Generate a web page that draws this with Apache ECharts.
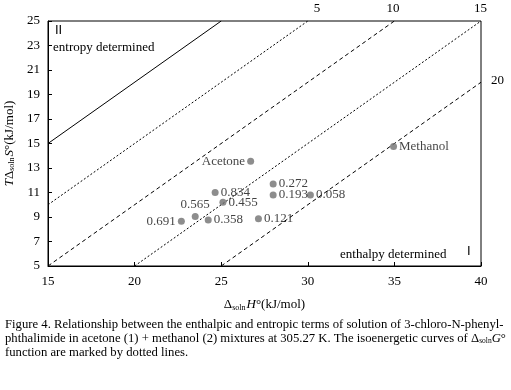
<!DOCTYPE html>
<html><head><meta charset="utf-8">
<script src="https://cdn.jsdelivr.net/npm/echarts@6/dist/echarts.min.js"></script>
<style>html,body{margin:0;padding:0;background:#fff}#c{width:511px;height:390px}</style>
</head><body><div id="c"></div>
<script>
// Data
const pointNames = ['Acetone','0.834','0.455','0.565','0.358','0.691','0.121','0.272','0.193','0.058','Methanol'];
const enthalpy   = [26.7, 24.65, 25.1, 23.5, 24.25, 22.7, 27.15, 28.0, 28.0, 30.15, 34.95];
const entropy    = [13.55, 11.0, 10.2, 9.05, 8.75, 8.65, 8.85, 11.7, 10.8, 10.8, 14.75];
const iso0  = [[15,15],[25,25]];
const iso5  = [[15,10],[30,25]];
const iso10 = [[15,5],[35,25]];
const iso15 = [[20,5],[40,25]];
const iso20 = [[25,5],[40,20]];
const isoNames = ['', '5', '10', '15', '20'];
const xTicks = [15,20,25,30,35,40];
const yTicks = [5,7,9,11,13,15,17,19,21,23,25];

const FONT = '"Liberation Serif", "DejaVu Serif", serif';
const SANS = '"Liberation Sans", "DejaVu Sans", sans-serif';
const labelPos = {'Acetone':'left','0.691':'left','0.565':'top'};

const chart = echarts.init(document.getElementById('c'), null, {renderer:'canvas'});
const isoData = [iso0, iso5, iso10, iso15, iso20];
const isoStyle = [
  {type:'solid', off:[0,0]},
  {type:[2,2], off:[6,-12]},
  {type:[4,3], off:[-8,-12]},
  {type:[2,2], off:[-7,-12]},
  {type:[4,3], off:[10,-2]}
];
const lineSeries = isoData.map((d,i)=>({
  type:'line', name: isoNames[i], data:d, symbol:'none', silent:true,
  lineStyle:{color:'#000', width:1, type: isoStyle[i].type},
  endLabel:{show: isoNames[i]!=='', formatter: isoNames[i], color:'#000', fontFamily:FONT, fontSize:13,
            offset: isoStyle[i].off, distance:0},
  z:1
}));

const nameRich = {
  d:{fontFamily:FONT,fontSize:13,color:'#000'},
  s:{fontFamily:FONT,fontSize:8,color:'#000',verticalAlign:'bottom',padding:[6,1,0,0]},
  i:{fontFamily:FONT,fontSize:13,fontStyle:'italic',color:'#000'},
  n:{fontFamily:FONT,fontSize:13,color:'#000'}
};
const CAP = 12.7;

chart.setOption({
  animation:false,
  backgroundColor:'#fff',
  grid:{left:48, right:30, top:21, bottom:124, show:true, borderColor:'#000', borderWidth:1,
        containLabel:false, outerBoundsMode:'none'},
  xAxis:{type:'value', min:15, max:40, interval:5,
    axisLine:{show:true, lineStyle:{color:'#000'}},
    axisTick:{show:true, inside:true, length:4, lineStyle:{color:'#000'}},
    splitLine:{show:false},
    axisLabel:{color:'#000', fontFamily:FONT, fontSize:13, margin:9,
      formatter:v=> xTicks.includes(v)? String(v):''},
    name:'{d|Δ}{s|soln}{i|H}{n|°(kJ/mol)}', nameLocation:'middle', nameGap:32,
    nameTextStyle:{color:'#000', fontFamily:FONT, fontSize:13, rich:nameRich}
  },
  yAxis:{type:'value', min:5, max:25, interval:2,
    axisLine:{show:true, lineStyle:{color:'#000'}},
    axisTick:{show:true, inside:true, length:4, lineStyle:{color:'#000'}},
    splitLine:{show:false},
    axisLabel:{color:'#000', fontFamily:FONT, fontSize:13, margin:8,
      formatter:v=> yTicks.includes(v)? String(v):''},
    name:'{i|T}{d|Δ}{s|soln}{i|S}{n|°(kJ/mol)}', nameLocation:'middle', nameGap:31, nameRotate:90,
    nameTextStyle:{color:'#000', fontFamily:FONT, fontSize:13, rich:nameRich}
  },
  series:[...lineSeries, {
    type:'scatter', symbolSize:7, z:3,
    itemStyle:{color:'#707070'},
    data: enthalpy.map((x,i)=>({value:[x, entropy[i]], name:pointNames[i],
      label:{position: labelPos[pointNames[i]]||'right'}})),
    label:{show:true, formatter:p=>p.name, color:'#111', fontFamily:FONT, fontSize:13, distance:2}
  }],
  graphic:[
    {type:'text', left:55, top:24, style:{text:'II', font:'13px '+SANS, fill:'#000'}},
    {type:'text', left:53, top:41, style:{text:'entropy determined', font:'13px '+FONT, fill:'#000'}},
    {type:'text', left:340, top:248, style:{text:'enthalpy determined', font:'13px '+FONT, fill:'#000'}},
    {type:'text', left:467, top:245, style:{text:'I', font:'13px '+SANS, fill:'#000'}},
    {type:'text', left:5, top:318, style:{text:'Figure 4. Relationship between the enthalpic and entropic terms of solution of 3-chloro-N-phenyl-', font:CAP+'px '+FONT, fill:'#000'}},
    {type:'text', left:5, top:332, style:{text:'{n|phthalimide in acetone (1) + methanol (2) mixtures at 305.27 K. The isoenergetic curves of Δ}{s|soln}{i|G}{n|°}',
      font:CAP+'px '+FONT, fill:'#000',
      rich:{n:{fontFamily:FONT,fontSize:CAP,fill:'#000'},
            s:{fontFamily:FONT,fontSize:7.5,fill:'#000',verticalAlign:'bottom',padding:[5,0,0,0]},
            i:{fontFamily:FONT,fontSize:CAP,fontStyle:'italic',fill:'#000'}}}},
    {type:'text', left:5, top:346, style:{text:'function are marked by dotted lines.', font:CAP+'px '+FONT, fill:'#000'}}
  ]
});
</script></body></html>
